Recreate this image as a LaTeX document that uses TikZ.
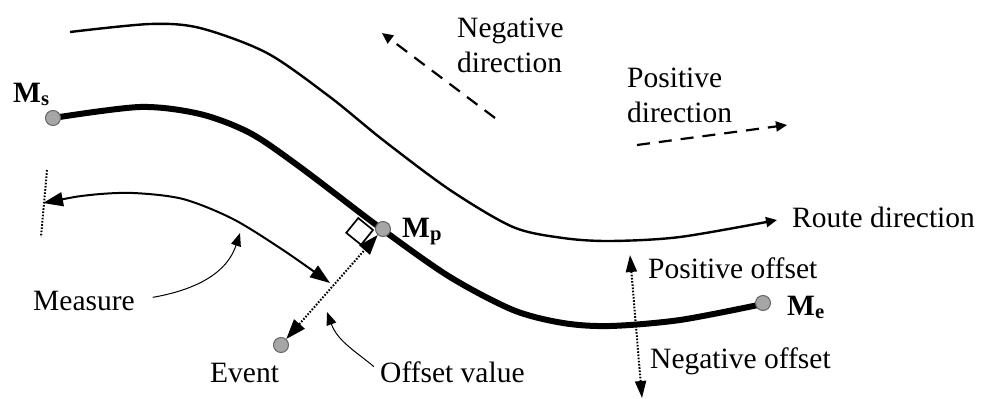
\documentclass[tikz,border=0pt]{standalone}
\usepackage{fontspec}
\setmainfont{Liberation Serif}
\usetikzlibrary{arrows.meta}
\tikzset{
  mdot/.style={circle,fill=black!35,draw=black!60,line width=1pt,minimum size=15pt,inner sep=0pt},
  lbl/.style={anchor=base west,inner sep=0pt,align=left,font=\fontsize{29.5}{35}\selectfont},
  mlbl/.style={lbl,font=\fontsize{29.5}{35}\selectfont\bfseries},
  pointer/.style={line width=1pt,-{Triangle[length=13pt,width=10pt]}},
  dirarrow/.style={line width=2.2pt,dash pattern=on 13pt off 9pt,-{Triangle[length=11pt,width=10pt]}},
  dotline/.style={line width=2pt,dash pattern=on 1.6pt off 1.6pt},
  bigtips/.style={{Triangle[length=20pt,width=14pt]}-{Triangle[length=20pt,width=14pt]}},
}
\begin{document}
\begin{tikzpicture}[x=1pt,y=-1pt]
\useasboundingbox (0,0) rectangle (983,399);
\draw[line width=2.4pt,-{Triangle[length=11pt,width=10pt]}] plot[smooth] coordinates {(70,32) (150,24) (200,28) (267,53) (330,97) (383,140) (450,190) (513,227) (563,238) (610,241) (680,237) (777,220)};
\draw[line width=2pt,bigtips] plot[smooth] coordinates {(43,203) (90,195) (133,193) (183,199) (233,219) (283,250) (330,283)};
\draw[dotline] (47,170) -- (41,237);
\coordinate (sqa) at (373,230);
\draw[line width=1.7pt] (sqa) -- ++(141:19pt) -- ++(231:19pt) -- ++(321:19pt) -- cycle;
\draw[line width=6pt] plot[smooth] coordinates {(53,118) (140,107) (200,114) (250,133) (300,167) (383,230) (450,277) (513,310) (563,323) (610,326) (680,320) (763,304)};
\node[mdot] (ms) at (53,118) {};
\node[mdot] (mp) at (383,229) {};
\node[mdot] (me) at (763,303) {};
\node[mdot] (event) at (281,345) {};
\node[mlbl] (mslbl) at (13,102) {M\textsubscript{s}};
\node[mlbl] (mplbl) at (402,237) {M\textsubscript{p}};
\node[mlbl] (melbl) at (787,315) {M\textsubscript{e}};
\node[lbl] (measure) at (33,310) {Measure};
\node[lbl] (eventlbl) at (210,382) {Event};
\node[lbl] (offval) at (380,382) {Offset value};
\node[lbl] (negdir) at (457,72) {Negative\\direction};
\node[lbl] (posdir) at (627,122) {Positive\\direction};
\node[lbl] (route) at (792,227) {Route direction};
\node[lbl] (posoff) at (648,278) {Positive offset};
\node[lbl] (negoff) at (650,368) {Negative offset};
\draw[dotline,bigtips] (event) -- (mp);
\coordinate (ndstart) at (495,118);
\coordinate (ndend) at (382,33);
\draw[dirarrow] (ndstart) -- (ndend);
\coordinate (pdstart) at (637,145);
\coordinate (pdend) at (787,125);
\draw[dirarrow] (pdstart) -- (pdend);
\coordinate (offtop) at (630,255);
\coordinate (offbot) at (642,398);
\draw[dotline,{Triangle[length=17pt,width=11pt]}-{Triangle[length=17pt,width=11pt]}] (offbot) -- (offtop);
\coordinate (mtip) at (240,233);
\draw[pointer,shorten <=18pt] (measure.east) to[out=10,in=-108] (mtip);
\coordinate (otip) at (327,312);
\draw[pointer,shorten <=8pt] (offval.west) to[out=140,in=-70] (otip);
\end{tikzpicture}
\end{document}
